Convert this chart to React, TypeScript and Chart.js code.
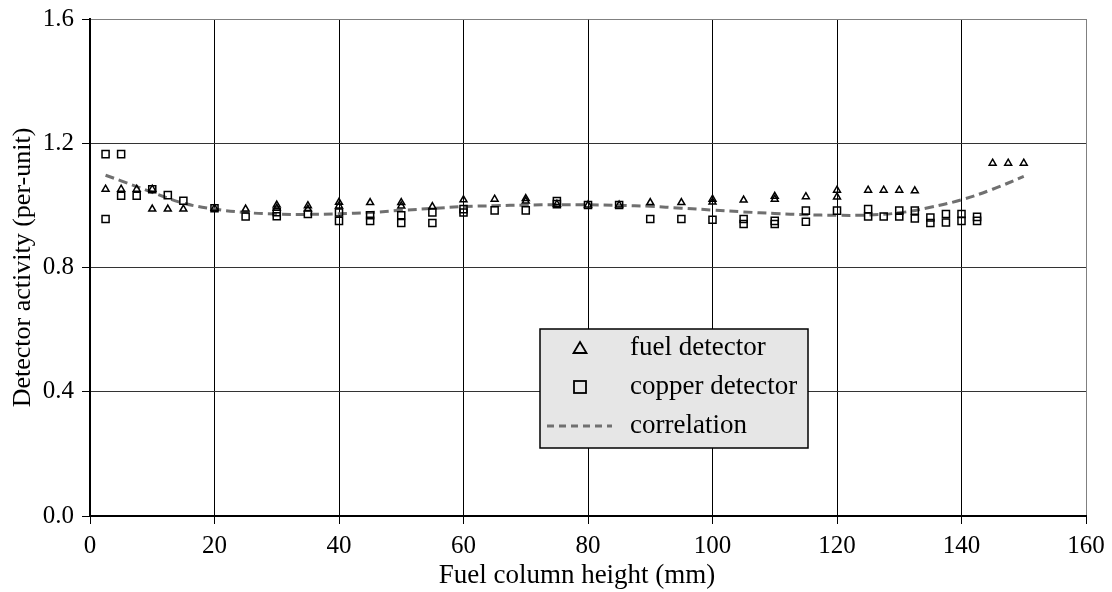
import React, { useEffect, useRef } from "react";
import { Chart, registerables } from "chart.js";

Chart.register(...registerables);

const fuelHeight = [2.5, 5, 7.5, 10, 10, 12.5, 15, 20, 25, 30, 30, 35, 35, 40, 40, 45, 50, 50, 55, 60, 65, 70, 70, 75, 80, 85, 90, 95, 100, 100, 105, 110, 110, 115, 120, 120, 125, 127.5, 130, 132.5, 145, 147.5, 150];
const fuelActivity = [1.052, 1.052, 1.052, 1.052, 0.988, 0.988, 0.988, 0.991, 0.988, 1.001, 0.991, 0.999, 0.988, 1.010, 0.998, 1.009, 1.009, 0.998, 0.996, 1.018, 1.020, 1.022, 1.014, 1.004, 1.001, 1.001, 1.009, 1.009, 1.020, 1.011, 1.017, 1.029, 1.020, 1.028, 1.049, 1.027, 1.049, 1.049, 1.049, 1.047, 1.136, 1.136, 1.136];

const copperHeight = [2.5, 2.5, 5, 5, 7.5, 10, 12.5, 15, 20, 25, 30, 30, 35, 40, 40, 45, 45, 50, 50, 55, 55, 60, 60, 65, 70, 75, 75, 80, 85, 90, 95, 100, 105, 105, 110, 110, 115, 115, 120, 125, 125, 127.5, 130, 130, 132.5, 132.5, 135, 135, 137.5, 137.5, 140, 140, 142.5, 142.5];
const copperActivity = [1.165, 0.956, 1.165, 1.031, 1.031, 1.052, 1.033, 1.015, 0.991, 0.964, 0.978, 0.965, 0.972, 0.977, 0.950, 0.968, 0.950, 0.968, 0.943, 0.977, 0.943, 0.988, 0.977, 0.984, 0.984, 1.014, 1.004, 1.001, 1.001, 0.956, 0.956, 0.954, 0.956, 0.940, 0.950, 0.940, 0.983, 0.947, 0.983, 0.988, 0.964, 0.964, 0.983, 0.964, 0.983, 0.958, 0.961, 0.943, 0.972, 0.945, 0.972, 0.950, 0.963, 0.950];

const corrHeight = [2.5, 5, 10, 15, 20, 25, 30, 35, 40, 45, 50, 55, 60, 65, 70, 75, 80, 85, 90, 95, 100, 105, 110, 115, 120, 125, 130, 135, 140, 145, 150];
const corrActivity = [1.097, 1.079, 1.042, 1.007, 0.988, 0.977, 0.972, 0.971, 0.973, 0.977, 0.984, 0.990, 0.996, 0.999, 1.001, 1.002, 1.002, 1.000, 0.997, 0.991, 0.985, 0.979, 0.974, 0.970, 0.968, 0.969, 0.976, 0.994, 1.018, 1.052, 1.093];

const xTicks = [0, 20, 40, 60, 80, 100, 120, 140, 160];
const yTicks = [0.0, 0.4, 0.8, 1.2, 1.6];
const legendLabels = ["fuel detector", "copper detector", "correlation"];
const xTitle = "Fuel column height (mm)";
const yTitle = "Detector activity (per-unit)";

const FONT = "'Liberation Serif', 'Times New Roman', serif";

const toPoints = (xs: number[], ys: number[]) => xs.map((x, i) => ({ x, y: ys[i] }));

const legendPlugin = {
  id: "boxLegend",
  afterDraw(chart: any) {
    const ctx = chart.ctx as CanvasRenderingContext2D;
    const left = 540, top = 329, w = 268, h = 119;
    ctx.save();
    ctx.fillStyle = "#e6e6e6";
    ctx.fillRect(left, top, w, h);
    ctx.strokeStyle = "#000";
    ctx.lineWidth = 1.5;
    ctx.strokeRect(left, top, w, h);
    const rows = [top + 19, top + 58, top + 97];
    const cx = left + 40;
    ctx.lineWidth = 1.8;
    ctx.beginPath();
    ctx.moveTo(cx, rows[0] - 6);
    ctx.lineTo(cx + 6.5, rows[0] + 5);
    ctx.lineTo(cx - 6.5, rows[0] + 5);
    ctx.closePath();
    ctx.stroke();
    ctx.strokeRect(cx - 6, rows[1] - 6, 12, 12);
    ctx.strokeStyle = "#707070";
    ctx.lineWidth = 3;
    ctx.setLineDash([7, 5]);
    ctx.beginPath();
    ctx.moveTo(left + 7, rows[2]);
    ctx.lineTo(left + 72, rows[2]);
    ctx.stroke();
    ctx.setLineDash([]);
    ctx.fillStyle = "#000";
    ctx.font = `27px ${FONT}`;
    ctx.textBaseline = "middle";
    ctx.textAlign = "left";
    legendLabels.forEach((t, i) => ctx.fillText(t, left + 90, rows[i]));
    ctx.font = `27px ${FONT}`;
    ctx.textAlign = "center";
    ctx.textBaseline = "alphabetic";
    ctx.fillText(xTitle, 577, 583);
    ctx.restore();
  },
};

export default function App() {
  const ref = useRef<HTMLCanvasElement>(null);
  useEffect(() => {
    document.body.style.margin = "0";
    const chart = new Chart(ref.current!, {
      type: "scatter",
      data: {
        datasets: [
          {
            label: legendLabels[2],
            type: "line",
            data: toPoints(corrHeight, corrActivity),
            borderColor: "#707070",
            borderWidth: 3,
            borderDash: [9, 5],
            pointRadius: 0,
            tension: 0.4,
            fill: false,
            order: 3,
          } as any,
          {
            label: legendLabels[0],
            data: toPoints(fuelHeight, fuelActivity),
            pointStyle: "triangle",
            pointRadius: 4,
            borderColor: "#000",
            backgroundColor: "rgba(0,0,0,0)",
            borderWidth: 1.5,
            order: 1,
          },
          {
            label: legendLabels[1],
            data: toPoints(copperHeight, copperActivity),
            pointStyle: "rect",
            pointRadius: 5,
            borderColor: "#000",
            backgroundColor: "rgba(0,0,0,0)",
            borderWidth: 1.5,
            order: 2,
          },
        ],
      },
      options: {
        animation: false,
        responsive: false,
        maintainAspectRatio: false,
        layout: { padding: { top: 19, right: 26, left: 0, bottom: 0 } },
        plugins: { legend: { display: false }, tooltip: { enabled: false } },
        scales: {
          x: {
            type: "linear",
            min: 0,
            max: 160,
            afterBuildTicks: (s: any) => {
              s.ticks = xTicks.map((v) => ({ value: v }));
            },
            afterFit: (s: any) => {
              s.height = 76;
              s.paddingLeft = 0;
              s.paddingRight = 0;
            },
            ticks: { color: "#000", font: { family: FONT, size: 25 }, padding: 7 },
            grid: { color: (c: any) => (c.tick && c.tick.value === 160 ? "#808080" : "#000"), lineWidth: 1, tickLength: 8, tickColor: "#000" },
            border: { color: "#000", width: 2 },
            title: { display: false, text: xTitle },
          },
          y: {
            type: "linear",
            min: 0,
            max: 1.6,
            afterBuildTicks: (s: any) => {
              s.ticks = yTicks.map((v) => ({ value: v }));
            },
            afterFit: (s: any) => {
              s.width = 90;
              s.paddingTop = 0;
              s.paddingBottom = 0;
            },
            ticks: { color: "#000", font: { family: FONT, size: 25 }, padding: 8, callback: (v: any) => Number(v).toFixed(1) },
            grid: { color: (c: any) => (c.tick && c.tick.value === 1.6 ? "#808080" : "#333"), lineWidth: 1, tickLength: 8, tickColor: "#000" },
            border: { color: "#000", width: 2 },
            title: { display: true, text: yTitle, color: "#000", font: { family: FONT, size: 26 }, padding: { top: 8, bottom: 0 } },
          },
        },
      },
      plugins: [legendPlugin],
    });
    return () => chart.destroy();
  }, []);
  return (
    <div style={{ position: "fixed", left: 0, top: 0, width: 1112, height: 592, background: "#fff" }}>
      <canvas ref={ref} width={1112} height={592} style={{ width: 1112, height: 592 }} />
    </div>
  );
}
